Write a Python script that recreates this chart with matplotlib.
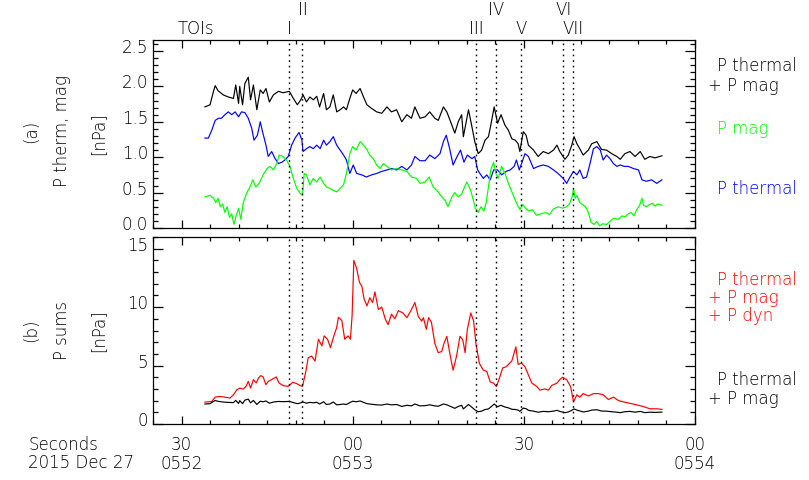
import numpy as np
import matplotlib
matplotlib.use("Agg")
import matplotlib.pyplot as plt
import matplotlib.transforms as mtransforms
from matplotlib.ticker import MultipleLocator, FixedLocator

plt.rcParams['font.family'] = ['DejaVu Sans']
plt.rcParams['font.weight'] = 'light'

# ---------------- data (seconds after 05:52:00) ----------------
t_tot = [34.1, 35.0, 35.6, 35.9, 36.4, 37.3, 38.2, 39.1, 39.5, 40.0, 40.2, 40.7, 41.1, 41.7, 42.1,
         42.6, 43.2, 43.8, 44.3, 44.8, 45.4, 46.1, 47.0, 47.8, 48.9, 49.6, 50.3, 50.9, 51.3, 51.9,
         52.5, 53.1, 53.7, 54.2, 54.9, 55.4, 56.0, 56.6, 57.2, 57.8, 58.4, 58.9, 59.5, 60.0, 60.6,
         61.3, 61.9, 62.5, 63.3, 64.2, 65.1, 66.0, 66.8, 67.7, 68.6, 69.5, 70.3, 70.9, 71.8, 72.7,
         73.5, 74.4, 75.0, 75.9, 76.5, 77.4, 77.9, 78.5, 79.1, 79.4, 80.3, 80.9, 81.4, 82.0, 82.6,
         83.2, 83.8, 84.2, 84.8, 85.4, 86.0, 86.7, 87.3, 87.9, 88.5, 89.0, 89.3, 89.9, 90.4, 90.8,
         91.7, 92.5, 93.4, 94.3, 95.2, 95.8, 96.3, 97.2, 97.8, 98.4, 98.8, 99.3, 99.8, 100.4, 101.3,
         101.9, 102.8, 103.6, 104.5, 105.4, 106.3, 106.9, 107.7, 108.6, 109.5, 110.4, 111.2, 112.1,
         113.0, 114.2]
p_tot = [1.71, 1.74, 1.93, 2.01, 1.94, 1.88, 1.85, 1.83, 2.02, 1.76, 2.00, 1.74, 2.04, 2.13, 1.81,
         2.02, 1.67, 1.95, 1.90, 1.97, 1.78, 1.88, 1.93, 1.91, 1.93, 1.83, 1.74, 1.81, 1.88, 1.78,
         1.85, 1.81, 1.86, 1.71, 1.90, 1.67, 1.71, 1.88, 1.64, 1.67, 1.71, 1.67, 1.83, 1.95, 1.90,
         1.97, 1.85, 1.74, 1.69, 1.64, 1.62, 1.71, 1.64, 1.67, 1.50, 1.60, 1.55, 1.71, 1.55, 1.57,
         1.64, 1.55, 1.52, 1.71, 1.64, 1.45, 1.34, 1.50, 1.60, 1.29, 1.67, 1.43, 1.22, 1.05, 1.10,
         1.24, 1.29, 1.45, 1.71, 1.48, 1.60, 1.45, 1.38, 1.26, 1.24, 1.19, 1.08, 1.36, 1.31, 1.17,
         1.10, 1.01, 1.08, 1.05, 1.10, 1.17, 1.08, 0.97, 1.03, 1.17, 1.29, 1.19, 1.12, 1.03, 1.10,
         1.19, 1.22, 1.11, 1.10, 1.05, 1.01, 0.97, 1.05, 1.08, 1.01, 1.08, 0.97, 1.01,
         0.99, 1.02]

t_th = [34.1, 34.7, 35.3, 35.9, 36.5, 37.0, 37.6, 38.2, 38.8, 39.4, 40.0, 40.5, 41.1, 41.7, 42.3,
        42.7, 43.3, 43.8, 44.2, 44.8, 45.2, 45.8, 46.4, 47.0, 47.6, 48.1, 48.7, 49.3, 49.9, 50.6,
        51.1, 51.3, 51.9, 52.5, 53.1, 53.7, 54.3, 54.9, 55.4, 56.0, 56.6, 57.2, 57.8, 58.4, 58.9,
        59.5, 60.1, 60.7, 61.6, 62.4, 63.3, 64.2, 65.1, 66.0, 66.8, 67.7, 68.6, 69.5, 70.3, 70.9,
        71.8, 72.7, 73.5, 74.4, 75.3, 75.9, 76.4, 77.0, 77.6, 78.3, 78.9, 79.5, 80.1, 80.9, 81.4,
        81.9, 82.3, 82.9, 83.5, 84.1, 84.7, 85.4, 86.1, 86.9, 87.6, 88.3, 88.7, 89.2, 89.6, 90.2,
        90.8, 91.7, 92.5, 93.4, 94.3, 95.2, 96.0, 96.9, 97.5, 98.1, 98.7, 99.3, 99.8, 100.4, 101.0,
        101.6, 102.2, 102.8, 103.4, 103.9, 104.5, 105.1, 105.7, 106.3, 106.9, 107.6, 108.3, 109.2,
        110.1, 110.7, 111.5, 112.4, 113.3, 114.2]
p_th = [1.27, 1.27, 1.38, 1.52, 1.55, 1.55, 1.60, 1.64, 1.60, 1.64, 1.57, 1.64, 1.63, 1.55, 1.41,
        1.24, 1.31, 1.50, 1.36, 1.17, 1.01, 1.08, 0.98, 0.91, 0.93, 0.96, 1.01, 1.17, 1.27, 1.35,
        1.24, 1.08, 1.12, 1.15, 1.12, 1.17, 1.12, 1.24, 1.17, 1.22, 1.29, 1.17, 1.10, 1.03, 0.96,
        0.77, 0.89, 0.77, 0.75, 0.72, 0.75, 0.77, 0.80, 0.82, 0.84, 0.82, 0.87, 0.82, 0.89, 1.01,
        0.95, 0.95, 1.03, 0.98, 1.05, 1.22, 1.31, 1.12, 0.89, 1.01, 1.10, 0.93, 1.03, 0.98, 1.01,
        0.82, 0.77, 0.70, 0.75, 0.68, 0.82, 0.82, 0.75, 0.80, 0.82, 0.87, 0.96, 0.82, 0.91, 1.05,
        1.01, 0.84, 0.87, 0.89, 0.87, 0.82, 0.77, 0.70, 0.63, 0.72, 0.80, 0.75, 0.82, 0.70, 0.72,
        0.91, 1.12, 1.15, 1.10, 0.96, 1.03, 0.98, 0.91, 0.87, 0.89, 0.87, 0.87, 0.84,
        0.82, 0.68, 0.66, 0.68, 0.63, 0.68]

t_mag = [34.1, 35.0, 35.6, 36.0, 36.4, 36.8, 37.2, 37.6, 38.0, 38.4, 38.8, 39.2, 39.6, 40.0, 40.4,
         40.8, 41.4, 42.0, 42.5, 43.0, 43.6, 44.3, 45.0, 45.5, 46.1, 46.7, 47.1, 47.8, 48.4, 49.0,
         49.6, 50.2, 50.8, 51.2, 51.5, 51.9, 52.5, 53.1, 53.7, 54.3, 54.9, 55.4, 56.0, 56.6, 57.2,
         57.8, 58.4, 58.9, 59.5, 60.0, 60.6, 61.3, 61.9, 62.4, 63.0, 63.6, 64.2, 64.8, 65.4, 66.0,
         66.8, 67.7, 68.6, 69.5, 70.3, 71.2, 71.8, 72.7, 73.4, 74.1, 75.0, 75.6, 76.2, 76.7, 77.0,
         77.4, 77.9, 78.5, 79.1, 80.0, 80.6, 81.0, 81.5, 82.0, 82.5, 83.0, 83.4, 83.8, 84.2, 84.7,
         85.1, 85.5, 86.1, 86.7, 87.3, 87.9, 88.5, 88.9, 89.3, 89.8, 90.3, 90.8, 91.5, 92.2, 93.0,
         93.8, 94.5, 95.2, 96.0, 96.8, 97.5, 98.0, 98.5, 98.7, 99.0, 99.3, 99.8, 100.3, 100.8, 101.3,
         101.8, 102.3, 102.8, 103.3, 103.8, 104.5, 105.2, 105.8, 106.5, 107.2, 107.8, 108.3, 108.8,
         109.3, 109.8, 110.3, 110.7, 111.0, 111.5, 112.0, 112.5, 113.0, 113.5, 114.2]
p_mag = [0.44, 0.46, 0.42, 0.36, 0.42, 0.30, 0.34, 0.22, 0.30, 0.15, 0.20, 0.05, 0.18, 0.28, 0.12,
         0.35, 0.49, 0.58, 0.68, 0.58, 0.63, 0.75, 0.84, 0.87, 0.82, 0.91, 1.03, 1.01, 0.96, 0.87,
         0.70, 0.56, 0.49, 0.46, 0.77, 0.75, 0.61, 0.70, 0.65, 0.72, 0.63, 0.58, 0.56, 0.53, 0.51,
         0.56, 0.61, 0.77, 1.05, 1.15, 1.10, 1.22, 1.17, 1.12, 1.03, 0.98, 0.89, 0.84, 0.91, 0.87,
         0.82, 0.84, 0.82, 0.80, 0.72, 0.70, 0.63, 0.65, 0.72, 0.58, 0.51, 0.44, 0.39, 0.30, 0.36,
         0.44, 0.50, 0.44, 0.48, 0.65, 0.55, 0.44, 0.28, 0.22, 0.30, 0.24, 0.36, 0.58, 0.82, 0.93,
         0.77, 0.70, 0.87, 0.77, 0.63, 0.51, 0.39, 0.32, 0.26, 0.33, 0.28, 0.24, 0.26, 0.18, 0.20,
         0.22, 0.19, 0.27, 0.30, 0.28, 0.30, 0.34, 0.45, 0.56, 0.42, 0.46, 0.36, 0.33, 0.30, 0.22,
         0.08, 0.05, 0.09, 0.03, 0.06, 0.05, 0.10, 0.14, 0.12, 0.17, 0.16, 0.20, 0.22,
         0.17, 0.26, 0.32, 0.42, 0.32, 0.30, 0.33, 0.35, 0.31, 0.34, 0.32]

t_sum = [34.1, 35.3, 35.9, 36.7, 37.6, 38.5, 39.1, 39.7, 40.2, 40.8, 41.3, 41.7, 42.1, 42.6, 43.1,
         43.5, 43.9, 44.3, 44.8, 45.2, 45.8, 46.6, 47.1, 47.8, 48.7, 49.5, 50.2, 50.8, 51.2, 51.8,
         52.2, 52.8, 53.4, 54.0, 54.6, 55.0, 55.6, 56.1, 56.7, 57.2, 57.5, 58.1, 58.6, 59.2, 59.6,
         59.9, 60.2, 60.7, 61.2, 61.6, 62.0, 62.5, 63.0, 63.5, 63.9, 64.5, 65.1, 65.7, 66.2, 66.8,
         67.4, 68.0, 68.8, 69.5, 70.2, 70.9, 71.5, 72.1, 72.4, 72.9, 73.3, 73.8, 74.4, 75.0, 75.6,
         76.0, 76.5, 77.0, 77.6, 78.2, 78.8, 79.3, 79.7, 80.1, 80.7, 81.2, 81.6, 82.2, 82.9, 83.5,
         84.1, 84.7, 85.2, 85.7, 86.3, 86.9, 87.5, 87.9, 88.3, 88.6, 89.0, 89.6, 90.2, 90.8, 91.4,
         92.3, 92.8, 93.7, 94.3, 94.9, 95.8, 96.3, 96.8, 97.5, 98.2, 98.7, 99.3, 99.8, 100.4, 101.3,
         102.2, 103.1, 103.9, 104.8, 105.7, 106.6, 107.4, 108.3, 109.2, 110.1, 110.9, 112.1, 113.3,
         114.2]
p_sum = [1.87, 1.93, 2.30, 2.36, 2.30, 2.22, 2.50, 2.93, 3.07, 2.99, 3.22, 3.65, 3.07, 3.80, 3.51,
         3.94, 4.14, 4.03, 3.36, 3.65, 3.80, 4.03, 3.51, 3.28, 3.22, 3.57, 3.45, 3.28, 3.22, 4.52,
         5.67, 5.81, 5.38, 7.25, 6.68, 7.54, 7.25, 6.53, 7.54, 8.26, 9.13, 8.85, 7.25, 7.54, 7.25,
         9.28, 14.0, 13.3, 12.1, 11.8, 10.7, 10.1, 10.8, 10.4, 11.3, 9.8, 10.0, 9.0, 8.5, 9.4,
         9.0, 9.7, 9.5, 9.1, 9.7, 10.4, 9.2, 8.8, 9.1, 8.1, 9.1, 8.7, 6.9, 6.1, 6.2,
         6.9, 7.5, 6.1, 4.6, 5.8, 7.5, 7.2, 6.1, 8.1, 9.5, 8.8, 6.9, 5.2, 4.6, 4.5,
         3.6, 3.5, 3.2, 3.9, 4.8, 4.9, 5.2, 5.4, 6.1, 6.6, 5.1, 5.2, 4.9, 4.2, 3.5,
         3.2, 2.9, 3.0, 2.9, 3.3, 3.5, 3.8, 4.0, 3.8, 3.2, 1.9, 2.5, 2.3, 2.6, 2.4,
         2.6, 2.6, 2.5, 2.1, 2.3, 2.0, 1.9, 1.8, 1.7, 1.6, 1.5, 1.3, 1.3,
         1.25]

toi_t = [48.9, 51.2, 81.7, 85.2, 89.5, 96.9, 98.7]
toi_names = ['I', 'II', 'III', 'IV', 'V', 'VI', 'VII']

xtick_secs = [30, 60, 90, 120]
xtick_sec_labels = ['30', '00', '30', '00']
xtick_hour_labels = ['0552', '0553', '', '0554']

# ---------------- figure ----------------
W, H = 809, 480
fig = plt.figure(figsize=(W / 100, H / 100), dpi=100)
fs = 12

def fx(px):
    return px / W

def fy(py):
    return 1 - py / H

ax_a = fig.add_axes([fx(153), fy(228), fx(695) - fx(153), fy(40) - fy(228)])
ax_b = fig.add_axes([fx(153), fy(424), fx(695) - fx(153), fy(237) - fy(424)])

lw = 0.85
ax_a.plot(t_tot, p_tot, color='black', lw=lw)
ax_a.plot(t_th, p_th, color='#0000ff', lw=lw)
ax_a.plot(t_mag, p_mag, color='#00ff00', lw=lw)

ax_b.plot(t_sum, p_sum, color='#ff0000', lw=lw)
ax_b.plot(t_tot, p_tot, color='black', lw=lw)

for ax in (ax_a, ax_b):
    ax.set_xlim(25, 120)
    ax.xaxis.set_major_locator(FixedLocator(xtick_secs))
    ax.xaxis.set_minor_locator(MultipleLocator(5))
    ax.tick_params(which='both', direction='in', top=True, right=True, labelsize=fs,
                   width=0.9)
    ax.tick_params(axis='x', which='major', length=6)
    ax.tick_params(axis='x', which='minor', length=3)
    ax.tick_params(axis='y', which='major', length=7.5)
    ax.tick_params(axis='y', which='minor', length=3.6)
    for s in ax.spines.values():
        s.set_linewidth(0.9)
    for tt in toi_t:
        ax.axvline(tt, color='black', lw=1.0, linestyle=(0, (1.2, 2.8)))

ax_a.set_ylim(0, 2.655)
ax_a.set_yticks([0.0, 0.5, 1.0, 1.5, 2.0, 2.5])
ax_a.set_yticklabels(['0.0', '0.5', '1.0', '1.5', '2.0', '2.5'])
ax_a.yaxis.set_minor_locator(MultipleLocator(0.1))
ax_a.set_xticklabels([])

ax_b.set_ylim(0, 16)
ax_b.set_yticks([0, 5, 10, 15])
ax_b.set_yticklabels(['0', '5', '10', '15'])
ax_b.yaxis.set_minor_locator(MultipleLocator(1))
# two-row time labels: seconds on the first row, hhmm on the second
ax_b.set_xticklabels([s + ('\n' + h if h else '') for s, h in
                      zip(xtick_sec_labels, xtick_hour_labels)], linespacing=1.05)
ax_b.tick_params(axis='x', which='major', pad=9)

# y tick labels sit slightly above their ticks in the original
off = mtransforms.ScaledTranslation(0, 5 / 100, fig.dpi_scale_trans)
for ax in (ax_a, ax_b):
    for lab in ax.get_yticklabels():
        lab.set_transform(lab.get_transform() + off)

fig.text(fx(28), fy(445), 'Seconds', ha='left', va='center', fontsize=fs)
fig.text(fx(28), fy(463), '2015 Dec 27', ha='left', va='center', fontsize=fs)

# TOI labels
tr_a = mtransforms.blended_transform_factory(ax_a.transData, fig.transFigure)
for i, (tt, nm) in enumerate(zip(toi_t, toi_names)):
    yy = fy(29) if i % 2 == 0 else fy(10)
    ax_a.text(tt, yy, nm, transform=tr_a, ha='center', va='center', fontsize=fs,
              clip_on=False)
fig.text(fx(196), fy(29), 'TOIs', ha='center', va='center', fontsize=fs)

# left titles
fig.text(fx(31), fy(131), '(a)', rotation=90, ha='center', va='center', fontsize=fs)
fig.text(fx(62), fy(131), 'P therm, mag', rotation=90, ha='center', va='center', fontsize=fs)
fig.text(fx(98), fy(134), '[nPa]', rotation=90, ha='center', va='center', fontsize=fs)
fig.text(fx(31), fy(330), '(b)', rotation=90, ha='center', va='center', fontsize=fs)
fig.text(fx(62), fy(330), 'P sums', rotation=90, ha='center', va='center', fontsize=fs)
fig.text(fx(98), fy(331), '[nPa]', rotation=90, ha='center', va='center', fontsize=fs)

# right-hand legends
fig.text(fx(717), fy(66), 'P thermal', color='black', ha='left', va='center', fontsize=fs)
fig.text(fx(708), fy(86), '+ P mag', color='black', ha='left', va='center', fontsize=fs)
fig.text(fx(717), fy(129), 'P mag', color='#00ff00', ha='left', va='center', fontsize=fs)
fig.text(fx(717), fy(189), 'P thermal', color='#0000ff', ha='left', va='center', fontsize=fs)

fig.text(fx(717), fy(280), 'P thermal', color='#ff0000', ha='left', va='center', fontsize=fs)
fig.text(fx(708), fy(298), '+ P mag', color='#ff0000', ha='left', va='center', fontsize=fs)
fig.text(fx(708), fy(316), '+ P dyn', color='#ff0000', ha='left', va='center', fontsize=fs)
fig.text(fx(717), fy(380), 'P thermal', color='black', ha='left', va='center', fontsize=fs)
fig.text(fx(708), fy(399), '+ P mag', color='black', ha='left', va='center', fontsize=fs)

fig.savefig('out.png', dpi=100)
